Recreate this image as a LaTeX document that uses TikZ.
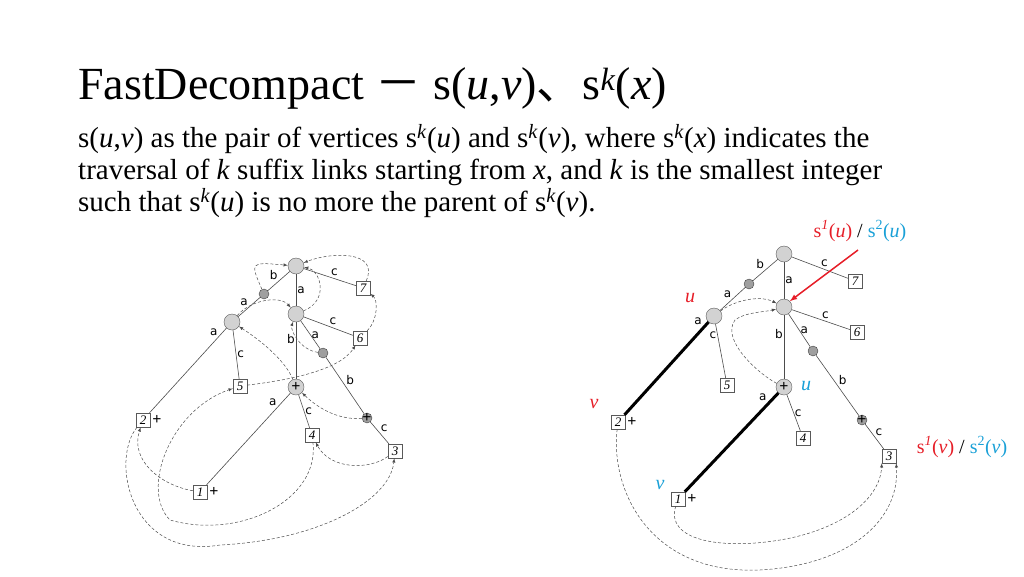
\documentclass[tikz,border=0pt]{standalone}
\usepackage{fontspec}
\setmainfont{Liberation Serif}
\setsansfont{DejaVu Sans}
\newfontfamily\cjk{Noto Sans CJK SC}
\usetikzlibrary{calc}
\definecolor{sred}{RGB}{230,30,40}
\definecolor{sblue}{RGB}{25,160,215}
\tikzset{
  inode/.style={circle, draw=gray!70!black, fill=gray!35, minimum size=16pt, inner sep=0pt},
  snode/.style={circle, draw=gray!50!black, fill=gray!75, minimum size=10pt, inner sep=0pt},
  leaf/.style={rectangle, draw=gray!70!black, fill=white, minimum size=14pt, inner sep=1pt, font=\fontsize{13}{13}\selectfont\itshape},
  edge/.style={draw=gray!60!black, line width=0.6pt},
  lab/.style={font=\sffamily\fontsize{12}{12}\selectfont, inner sep=1pt},
  slink/.style={draw=gray!60!black, densely dashed, line width=0.5pt, -latex},
  pl/.style={font=\bfseries\fontsize{16}{16}\selectfont, inner sep=0pt}
}
\begin{document}
\begin{tikzpicture}[x=1pt, y=-1pt]
\useasboundingbox (0,0) rectangle (1024,576);

% title and text
\node[anchor=west, font=\fontsize{46}{46}\selectfont, inner sep=0pt] (title) at (78,88)
  {FastDecompact {\cjk －} s(\textit{u},\textit{v}){\cjk 、}s\textsuperscript{\textit{k}}(\textit{x})};
\node[anchor=north west, align=left, font=\fontsize{29}{32}\selectfont, inner sep=0pt] (text) at (78,124)
  {s(\textit{u},\textit{v}) as the pair of vertices s\textsuperscript{\textit{k}}(\textit{u}) and s\textsuperscript{\textit{k}}(\textit{v}), where s\textsuperscript{\textit{k}}(\textit{x}) indicates the\\
   traversal of \textit{k} suffix links starting from \textit{x}, and \textit{k} is the smallest integer\\
   such that s\textsuperscript{\textit{k}}(\textit{u}) is no more the parent of s\textsuperscript{\textit{k}}(\textit{v}).};

% left tree
\node[inode] (lr) at (296,266) {};
\node[snode] (ld1) at (264,294) {};
\node[inode] (la) at (232,322) {};
\node[inode] (lb) at (296,314) {};
\node[snode] (ld2) at (323,353) {};
\node[inode] (lp) at (296,387) {};
\node[snode] (ld3) at (367,418) {};
\node[leaf] (l7) at (363,288) {7};
\node[leaf] (l6) at (360,338) {6};
\node[leaf] (l5) at (240,386) {5};
\node[leaf] (l2) at (143,420) {2};
\node[leaf] (l4) at (312,435) {4};
\node[leaf] (l3) at (395,451) {3};
\node[leaf] (l1) at (200,492) {1};
\node[pl] at (lp) {+};
\node[pl] at (ld3) {+};
\node[pl, right=2pt] at (l2.east) {+};
\node[pl, right=2pt] at (l1.east) {+};

\draw[edge] (lr) -- node[lab, above left] {b} (ld1);
\draw[edge] (ld1) -- node[lab, above left] {a} (la);
\draw[edge] (lr) -- node[lab, above right] {c} (l7);
\draw[edge] (lr) -- node[lab, right] {a} (lb);
\draw[edge] (lb) -- node[lab, above right] {c} (l6);
\draw[edge] (lb) -- node[lab, right] {a} (ld2);
\draw[edge] (ld2) -- node[lab, above right] {b} (ld3);
\draw[edge] (ld3) -- node[lab, above right] {c} (l3);
\draw[edge] (lb) -- node[lab, left, pos=0.3] {b} (lp);
\draw[edge] (la) -- node[lab, right] {c} (l5);
\draw[edge] (la) -- node[lab, above left, pos=0.1] {a} (l2);
\draw[edge] (lp) -- node[lab, above left, pos=0.15] {a} (l1);
\draw[edge] (lp) -- node[lab, right] {c} (l4);

\draw[slink] (ld1) .. controls (250,262) .. (lr);
\draw[slink] (lb) .. controls (330,300) and (320,270) .. (lr);
\draw[slink] (l7) .. controls (380,250) and (330,252) .. (lr);
\draw[slink] (la) .. controls (250,300) and (280,295) .. (lb);
\draw[slink] (l6) .. controls (378,320) and (378,300) .. (l7);
\draw[slink] (ld2) .. controls (300,350) and (290,330) .. (lb);
\draw[slink] (l5) .. controls (290,380) and (340,370) .. (l6);
\draw[slink] (lp) .. controls (285,360) and (260,340) .. (la);
\draw[slink] (ld3) .. controls (340,420) and (320,410) .. (lp);
\draw[slink] (l3) .. controls (370,470) and (330,470) .. (l4);
\draw[slink] (l1) .. controls (160,485) and (130,460) .. (l2);
\draw[slink] (l4) .. controls (320,500) and (240,540) .. (170,520) .. controls (140,490) and (170,410) .. (l5);
\draw[slink] (l2) .. controls (110,460) and (130,560) .. (220,545) .. controls (320,540) and (390,500) .. (l3);

% right tree
\node[inode] (rr) at (784,254) {};
\node[snode] (rd1) at (749,284) {};
\node[inode] (ra) at (714,316) {};
\node[inode] (rb) at (784,307) {};
\node[snode] (rd2) at (813,351) {};
\node[inode] (rp) at (784,387) {};
\node[snode] (rd3) at (862,420) {};
\node[leaf] (r7) at (855,281) {7};
\node[leaf] (r6) at (857,332) {6};
\node[leaf] (r5) at (727,385) {5};
\node[leaf] (r2) at (618,422) {2};
\node[leaf] (r4) at (803,438) {4};
\node[leaf] (r3) at (889,456) {3};
\node[leaf] (r1) at (678,499) {1};
\node[pl] at (rp) {+};
\node[pl] at (rd3) {+};
\node[pl, right=2pt] at (r2.east) {+};
\node[pl, right=2pt] at (r1.east) {+};

\draw[edge] (rr) -- node[lab, above left] {b} (rd1);
\draw[edge] (rd1) -- node[lab, above left] {a} (ra);
\draw[edge] (rr) -- node[lab, above right] {c} (r7);
\draw[edge] (rr) -- node[lab, right] {a} (rb);
\draw[edge] (rb) -- node[lab, above right] {c} (r6);
\draw[edge] (rb) -- node[lab, right] {a} (rd2);
\draw[edge] (rd2) -- node[lab, above right] {b} (rd3);
\draw[edge] (rd3) -- node[lab, above right] {c} (r3);
\draw[edge] (rb) -- node[lab, left, pos=0.3] {b} (rp);
\draw[edge] (ra) -- node[lab, left, pos=0.2] {c} (r5);
\draw[line width=3pt] (ra) -- node[lab, above left, pos=0.05] {a} (r2);
\draw[line width=3pt] (rp) -- node[lab, above left, pos=0.1] {a} (r1);
\draw[edge] (rp) -- node[lab, right] {c} (r4);

\draw[slink] (ra) .. controls (735,300) and (760,295) .. (rb);
\draw[slink] (rp) .. controls (760,375) and (720,340) .. (735,320) .. controls (745,312) and (765,312) .. (rb);
\draw[slink] (r1) .. controls (665,540) and (720,550) .. (780,540) .. controls (840,530) and (880,500) .. (r3.south west);
\draw[slink] (r2) .. controls (610,490) and (650,575) .. (760,570) .. controls (850,565) and (900,520) .. (r3.south east);

% annotations
\node[sred, font=\itshape\fontsize{20}{20}\selectfont] (ur) at (690,298) {u};
\node[sred, font=\itshape\fontsize{20}{20}\selectfont] (vr) at (594,404) {v};
\node[sblue, font=\itshape\fontsize{20}{20}\selectfont] (ub) at (806,386) {u};
\node[sblue, font=\itshape\fontsize{20}{20}\selectfont] (vb) at (660,485) {v};
\node[font=\fontsize{20}{20}\selectfont] (su) at (860,231)
  {\textcolor{sred}{s\textsuperscript{\textit{1}}(\textit{u})} / \textcolor{sblue}{s\textsuperscript{2}(\textit{u})}};
\node[font=\fontsize{20}{20}\selectfont] (sv) at (962,447)
  {\textcolor{sred}{s\textsuperscript{\textit{1}}(\textit{v})} / \textcolor{sblue}{s\textsuperscript{2}(\textit{v})}};
\coordinate (tail) at (858,250);
\draw[sred, line width=1.5pt, -latex] (tail) -- (rb.north east);
\end{tikzpicture}
\end{document}
